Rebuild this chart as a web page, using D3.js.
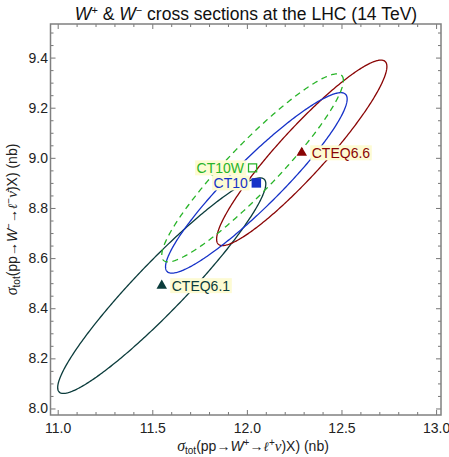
<!DOCTYPE html>
<html>
<head>
<meta charset="utf-8">
<script src="https://cdn.jsdelivr.net/npm/d3@7"></script>
<style>
  body { margin: 0; background: #fff; }
  svg { display: block; font-family: "Liberation Sans", Arial, sans-serif; }
</style>
</head>
<body>
<div id="chart"></div>
<script>
// PDF sets with their W+ / W- cross sections (nb), one-sigma errors and correlation
const pdfSets = ["CTEQ6.1", "CTEQ6.6", "CT10", "CT10W"];
const sigmaWplus = [11.55, 12.29, 12.05, 12.03];
const sigmaWminus = [8.49, 9.02, 8.90, 8.96];
const errWplus = [0.55, 0.45, 0.48, 0.48];
const errWminus = [0.43, 0.37, 0.36, 0.375];
const correlation = [0.945, 0.93, 0.93, 0.93];

const xMajorTicks = [11.0, 11.5, 12.0, 12.5, 13.0];
const yMajorTicks = [8.0, 8.2, 8.4, 8.6, 8.8, 9.0, 9.2, 9.4];

const width = 449, height = 457;
const frame = { left: 50.5, right: 441, top: 24, bottom: 415 };

const colors = ["#0b3c3c", "#8a0505", "#1632c8", "#28b428"];
const markerType = ["triangle", "triangle", "filledSquare", "openSquare"];

const svg = d3.select("#chart")
    .append("svg")
    .attr("width", width)
    .attr("height", height);

// Scales (domain is the frame extent)
const x = d3.scaleLinear().domain([10.962, 13.026]).range([frame.left, frame.right]);
const y = d3.scaleLinear().domain([7.974, 9.534]).range([frame.bottom, frame.top]);

const xMinor = d3.range(110, 131).map((d) => d / 10).filter((d) => !xMajorTicks.includes(d));
const yMinor = d3.range(160, 191).map((d) => d / 20).filter((d) => !yMajorTicks.some((t) => Math.abs(t - d) < 1e-9));

// Frame ticks, pointing inward on all four sides
function styleAxis(g) {
    g.select(".domain").remove();
    g.selectAll(".tick line").attr("stroke", "#666").attr("stroke-width", 0.9);
    g.selectAll(".tick text").attr("fill", "#222").style("font-size", "14px");
}

svg.append("g")
    .attr("transform", `translate(0,${frame.bottom})`)
    .call(d3.axisBottom(x).tickValues(xMajorTicks).tickFormat(d3.format(".1f")).tickSize(-5).tickPadding(8))
    .call(styleAxis);
svg.append("g")
    .attr("transform", `translate(0,${frame.bottom})`)
    .call(d3.axisBottom(x).tickValues(xMinor).tickFormat("").tickSize(-3))
    .call(styleAxis);
svg.append("g")
    .attr("transform", `translate(0,${frame.top})`)
    .call(d3.axisTop(x).tickValues(xMajorTicks).tickFormat("").tickSize(-5))
    .call(styleAxis);
svg.append("g")
    .attr("transform", `translate(0,${frame.top})`)
    .call(d3.axisTop(x).tickValues(xMinor).tickFormat("").tickSize(-3))
    .call(styleAxis);

svg.append("g")
    .attr("transform", `translate(${frame.left},0)`)
    .call(d3.axisLeft(y).tickValues(yMajorTicks).tickFormat(d3.format(".1f")).tickSize(-5).tickPadding(2.5))
    .call(styleAxis);
svg.append("g")
    .attr("transform", `translate(${frame.left},0)`)
    .call(d3.axisLeft(y).tickValues(yMinor).tickFormat("").tickSize(-3))
    .call(styleAxis);
svg.append("g")
    .attr("transform", `translate(${frame.right},0)`)
    .call(d3.axisRight(y).tickValues(yMajorTicks).tickFormat("").tickSize(-5))
    .call(styleAxis);
svg.append("g")
    .attr("transform", `translate(${frame.right},0)`)
    .call(d3.axisRight(y).tickValues(yMinor).tickFormat("").tickSize(-3))
    .call(styleAxis);

// Frame
svg.append("rect")
    .attr("x", frame.left)
    .attr("y", frame.top)
    .attr("width", frame.right - frame.left)
    .attr("height", frame.bottom - frame.top)
    .attr("fill", "none")
    .attr("stroke", "#808080")
    .attr("stroke-width", 1.5);

// Error ellipses: x = cx + sx cos t, y = cy + sy cos(t - acos(rho))
const ellipseLine = d3.line()
    .x((d) => x(d[0]))
    .y((d) => y(d[1]))
    .curve(d3.curveLinearClosed);

const plot = svg.append("g");

pdfSets.forEach((name, i) => {
    const phi = Math.acos(correlation[i]);
    const pts = d3.range(0, 360, 1).map((deg) => {
        const t = deg * Math.PI / 180;
        return [sigmaWplus[i] + errWplus[i] * Math.cos(t),
                sigmaWminus[i] + errWminus[i] * Math.cos(t - phi)];
    });
    plot.append("path")
        .attr("d", ellipseLine(pts))
        .attr("fill", "none")
        .attr("stroke", colors[i])
        .attr("stroke-width", 1.3)
        .attr("stroke-dasharray", name === "CT10W" ? "6,4.5" : null);
});

// Central-value markers
pdfSets.forEach((name, i) => {
    const type = markerType[i];
    const sym = d3.symbol()
        .type(type === "triangle" ? d3.symbolTriangle : d3.symbolSquare)
        .size(type === "triangle" ? 48 : (type === "filledSquare" ? 90 : 66));
    plot.append("path")
        .attr("d", sym())
        .attr("transform", `translate(${x(sigmaWplus[i])},${y(sigmaWminus[i])})`)
        .attr("fill", type === "openSquare" ? "none" : colors[i])
        .attr("stroke", type === "openSquare" ? colors[i] : "none")
        .attr("stroke-width", 1.3);
});

// Labels on a pale yellow background
const labelSide = ["right", "right", "left", "left"];
pdfSets.forEach((name, i) => {
    const px = x(sigmaWplus[i]), py = y(sigmaWminus[i]);
    const g = plot.append("g");
    const bg = g.append("rect").attr("fill", "#fdfbd3");
    const t = g.append("text")
        .attr("x", labelSide[i] === "right" ? px + 10 : px - 8.5)
        .attr("y", py + 5)
        .attr("text-anchor", labelSide[i] === "right" ? "start" : "end")
        .attr("fill", colors[i])
        .style("font-size", "14px")
        .text(name);
    const bb = t.node().getBBox();
    bg.attr("x", bb.x - 1.5).attr("y", bb.y + 0.5)
        .attr("width", bb.width + 3).attr("height", bb.height - 1);
});

// Title
const title = svg.append("text")
    .attr("x", 246)
    .attr("y", 20)
    .attr("text-anchor", "middle")
    .attr("fill", "#111")
    .style("font-size", "17.5px");
title.append("tspan").style("font-style", "italic").text("W");
title.append("tspan").attr("dy", -6).style("font-size", "11px").text("+");
title.append("tspan").attr("dy", 6).text(" & ");
title.append("tspan").style("font-style", "italic").text("W");
title.append("tspan").attr("dy", -6).style("font-size", "11px").text("\u2212");
title.append("tspan").attr("dy", 6).text(" cross sections at the LHC (14 TeV)");

// Axis titles
function axisTitle(sel, sign, bar) {
    sel.append("tspan").style("font-family", "'Liberation Serif', serif").style("font-style", "italic").style("font-size", "16px").text("\u03c3");
    sel.append("tspan").attr("dy", 3).style("font-size", "10px").text("tot");
    sel.append("tspan").attr("dy", -3).text("(pp\u2192");
    sel.append("tspan").style("font-style", "italic").text("W");
    sel.append("tspan").attr("dy", -5).style("font-size", "10px").text(sign);
    sel.append("tspan").attr("dy", 5).text("\u2192");
    sel.append("tspan").style("font-family", "'DejaVu Serif', serif").style("font-style", "italic").style("font-size", "13px").text("\u2113");
    sel.append("tspan").attr("dy", -5).style("font-size", "10px").text(sign);
    sel.append("tspan").attr("dy", 5).style("font-family", "'Liberation Serif', serif").style("font-style", "italic").style("font-size", "15px").text(bar ? "\u03bd\u0304" : "\u03bd");
    sel.append("tspan").text(")X) (nb)");
}

const xTitle = svg.append("text")
    .attr("x", 253)
    .attr("y", 451)
    .attr("text-anchor", "middle")
    .attr("fill", "#222")
    .style("font-size", "14px");
axisTitle(xTitle, "+", false);

const yTitle = svg.append("text")
    .attr("transform", `translate(17,${(frame.top + frame.bottom) / 2}) rotate(-90)`)
    .attr("text-anchor", "middle")
    .attr("fill", "#222")
    .style("font-size", "14px");
axisTitle(yTitle, "\u2212", true);
</script>
</body>
</html>
